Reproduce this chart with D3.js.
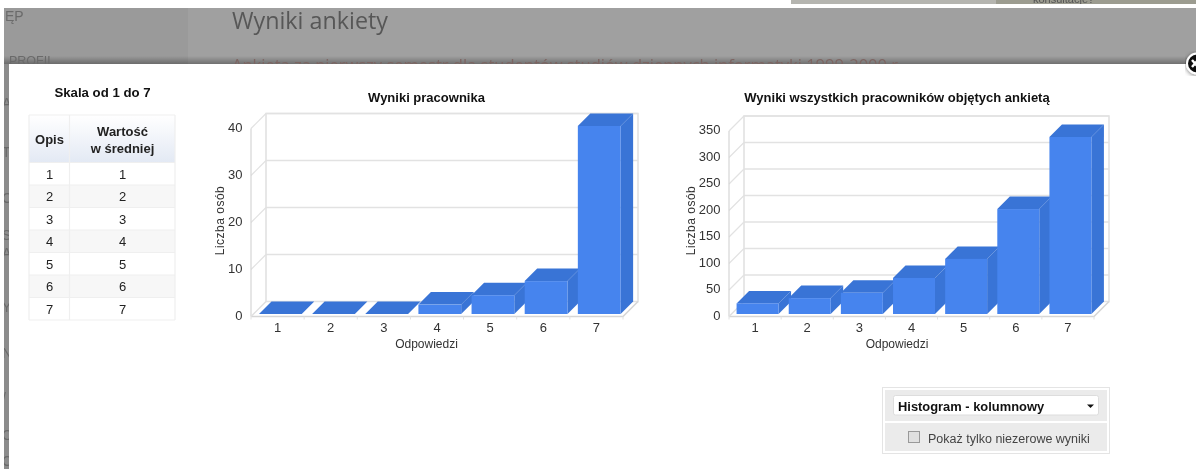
<!DOCTYPE html>
<html>
<head>
<meta charset="utf-8">
<script src="https://cdn.jsdelivr.net/npm/d3@7"></script>
<style>
  html, body { margin: 0; padding: 0; background: #fff; overflow: hidden; }
  svg { display: block; font-family: "Liberation Sans", Arial, sans-serif; }
  #crisp { filter: blur(0.35px); }
</style>
</head>
<body>
<div id="crisp"></div>
<script>
var answers = ['1', '2', '3', '4', '5', '6', '7']
var employeeValues = [0, 0, 0, 2, 4, 7, 40]
var allValues = [20, 30, 40, 68, 104, 198, 334]
var employeeTicks = [0, 10, 20, 30, 40]
var allTicks = [0, 50, 100, 150, 200, 250, 300, 350]
var tableDescriptions = ['1', '2', '3', '4', '5', '6', '7']
var tableValues = ['1', '2', '3', '4', '5', '6', '7']
var sideMenu = ['ĘP', 'PROFIL', 'A', 'T', 'C', 'S', 'A', 'Y', 'N', '/', 'O', 'C']

var width = 1196
var height = 469

var svg = d3.select('#crisp').append('svg')
  .attr('width', width)
  .attr('height', height)

var defs = svg.append('defs')

var headGrad = defs.append('linearGradient')
  .attr('id', 'headGrad')
  .attr('x1', 0).attr('y1', 0).attr('x2', 0).attr('y2', 1)
headGrad.append('stop').attr('offset', '0%').attr('stop-color', '#ffffff')
headGrad.append('stop').attr('offset', '100%').attr('stop-color', '#e3e9f4')

var shadeGrad = defs.append('linearGradient')
  .attr('id', 'shadeGrad')
  .attr('x1', 0).attr('y1', 0).attr('x2', 0).attr('y2', 1)
shadeGrad.append('stop').attr('offset', '0%').attr('stop-color', '#000').attr('stop-opacity', 0)
shadeGrad.append('stop').attr('offset', '100%').attr('stop-color', '#000').attr('stop-opacity', 0.3)

var closeShadow = defs.append('filter').attr('id', 'closeShadow')
closeShadow.append('feDropShadow')
  .attr('dx', 0).attr('dy', 1).attr('stdDeviation', 2).attr('flood-opacity', 0.5)

defs.append('clipPath').attr('id', 'pageClip')
  .append('rect').attr('x', 4).attr('y', 8).attr('width', width - 4).attr('height', height - 8)

drawBackdrop()
drawTable()

drawChart({
  left: 251, right: 623, base: 314, floor: 316.5,
  top: 126, depth: 15, barDepth: 12.5, shift: 2.8,
  ticks: employeeTicks, values: employeeValues,
  title: 'Wyniki pracownika', titleX: 426.5, yLabelX: 223.5
})

drawChart({
  left: 729, right: 1094, base: 314, floor: 316.5,
  top: 128.5, depth: 15, barDepth: 12.5, shift: 2.5,
  ticks: allTicks, values: allValues,
  title: 'Wyniki wszystkich pracowników objętych ankietą', titleX: 897, yLabelX: 695
})

drawControls()

function drawBackdrop () {
  svg.append('rect').attr('width', width).attr('height', height).attr('fill', '#fff')

  // piece of the page above the overlay
  svg.append('rect').attr('x', 791).attr('y', 0).attr('width', 405).attr('height', 4).attr('fill', '#b5b5b0')
  svg.append('rect').attr('x', 996).attr('y', 0).attr('width', 200).attr('height', 4).attr('fill', '#9c9c90')
  svg.append('text').attr('x', 1033).attr('y', 3).attr('font-size', 11).attr('fill', '#555').text('konsultacje?')
  svg.append('rect').attr('x', 0).attr('y', 4).attr('width', width).attr('height', 4).attr('fill', '#fff')

  var page = svg.append('g').attr('clip-path', 'url(#pageClip)')
  page.append('rect').attr('x', 4).attr('y', 8).attr('width', width - 4).attr('height', height - 8).attr('fill', '#a0a0a0')
  page.append('rect').attr('x', 4).attr('y', 8).attr('width', 184).attr('height', 56).attr('fill', '#9a9a9a')
  page.append('rect').attr('x', 4).attr('y', 56).attr('width', width - 4).attr('height', 8).attr('fill', 'url(#shadeGrad)')
  page.append('rect').attr('x', 4).attr('y', 64).attr('width', 5).attr('height', height - 64).attr('fill', '#8c8c8c')

  var menuX = [5, 9, 2, 2, 2, 2, 2, 2, 2, 2, 2, 2]
  var menuY = [20.5, 64.5, 108, 157, 203, 240, 258, 312, 358, 403, 440, 466]
  page.selectAll('text.menu').data(sideMenu).enter().append('text')
    .attr('class', 'menu')
    .attr('x', function (d, i) { return menuX[i] })
    .attr('y', function (d, i) { return menuY[i] })
    .attr('font-size', function (d, i) { return i === 1 ? 12.5 : 14 })
    .attr('fill', '#6a6a6a')
    .text(function (d) { return d })

  page.append('text')
    .attr('x', 232).attr('y', 29)
    .attr('font-family', '"Open Sans", sans-serif')
    .attr('font-size', 23.3)
    .attr('fill', '#575757')
    .text('Wyniki ankiety')

  page.append('text')
    .attr('x', 232).attr('y', 71)
    .attr('font-family', '"Open Sans", sans-serif')
    .attr('font-size', 16.5)
    .attr('fill', '#7d6562')
    .text('Ankieta za pierwszy semestr dla studentów studiów dziennych informatyki 1999-2000 r.')

  // modal sheet
  svg.append('rect').attr('x', 9).attr('y', 64).attr('width', width - 9).attr('height', height - 64).attr('fill', '#fff')

  // close button
  var close = svg.append('g')
  close.append('circle').attr('cx', 1197).attr('cy', 63.5).attr('r', 10).attr('fill', '#111').attr('stroke', '#fff').attr('stroke-width', 2).attr('filter', 'url(#closeShadow)')
  close.append('path').attr('d', 'M1192 60L1198 67M1198 60L1192 67').attr('stroke', '#fff').attr('stroke-width', 2.4)
}

function drawTable () {
  var x0 = 29
  var x1 = 69.5
  var x2 = 175
  var headTop = 115
  var headBottom = 162.5
  var rows = d3.scaleBand().domain(d3.range(tableValues.length)).range([headBottom, 320])
  var g = svg.append('g')

  svg.append('text')
    .attr('x', 102.5).attr('y', 96.5)
    .attr('text-anchor', 'middle')
    .attr('font-size', 13.2).attr('font-weight', 'bold').attr('fill', '#111')
    .text('Skala od 1 do 7')

  g.append('rect').attr('x', x0).attr('y', headTop).attr('width', x1 - x0).attr('height', headBottom - headTop).attr('fill', 'url(#headGrad)')
  g.append('rect').attr('x', x1).attr('y', headTop).attr('width', x2 - x1).attr('height', headBottom - headTop).attr('fill', 'url(#headGrad)')

  g.selectAll('rect.row').data(tableValues).enter().append('rect')
    .attr('class', 'row')
    .attr('x', x0)
    .attr('y', function (d, i) { return rows(i) })
    .attr('width', x2 - x0)
    .attr('height', rows.bandwidth())
    .attr('fill', function (d, i) { return i % 2 ? '#f7f7f7' : '#fff' })

  var lines = [headTop, headBottom].concat(tableValues.map(function (d, i) { return rows(i) + rows.bandwidth() }))
  g.selectAll('line.h').data(lines).enter().append('line')
    .attr('class', 'h')
    .attr('x1', x0).attr('x2', x2)
    .attr('y1', function (d) { return d }).attr('y2', function (d) { return d })
    .attr('stroke', '#efefef').attr('stroke-width', 1.2)

  g.selectAll('line.v').data([x0, x1, x2]).enter().append('line')
    .attr('class', 'v')
    .attr('x1', function (d) { return d }).attr('x2', function (d) { return d })
    .attr('y1', headTop).attr('y2', 320)
    .attr('stroke', '#efefef').attr('stroke-width', 1.2)

  g.append('text').attr('x', 49.5).attr('y', 143.5).attr('text-anchor', 'middle')
    .attr('font-size', 13).attr('font-weight', 'bold').attr('fill', '#222').text('Opis')
  g.append('text').attr('x', 122.5).attr('y', 136).attr('text-anchor', 'middle')
    .attr('font-size', 13).attr('font-weight', 'bold').attr('fill', '#222').text('Wartość')
  g.append('text').attr('x', 122.5).attr('y', 152.5).attr('text-anchor', 'middle')
    .attr('font-size', 13).attr('font-weight', 'bold').attr('fill', '#222').text('w średniej')

  g.selectAll('text.desc').data(tableDescriptions).enter().append('text')
    .attr('class', 'desc')
    .attr('x', 49.5)
    .attr('y', function (d, i) { return rows(i) + 16 })
    .attr('text-anchor', 'middle').attr('font-size', 13).attr('fill', '#222')
    .text(function (d) { return d })

  g.selectAll('text.val').data(tableValues).enter().append('text')
    .attr('class', 'val')
    .attr('x', 122.5)
    .attr('y', function (d, i) { return rows(i) + 16 })
    .attr('text-anchor', 'middle').attr('font-size', 13).attr('fill', '#222')
    .text(function (d) { return d })
}

function drawChart (c) {
  var gridColor = '#e2e2e2'
  var wallColor = '#d6d6d6'
  var frontColor = '#4684ee'
  var darkColor = '#3974d6'

  var maxTick = d3.max(c.ticks)
  var y = d3.scaleLinear().domain([0, maxTick]).range([c.base, c.top])
  var x = d3.scaleBand().domain(answers).range([c.left, c.right])
  var barWidth = x.bandwidth() * 0.805
  var barX = function (i) { return x(answers[i]) + (x.bandwidth() - barWidth) / 2 + c.shift }

  var g = svg.append('g')
  var backLeft = c.left + c.depth
  var backRight = c.right + c.depth
  var backFloor = c.floor - c.depth
  // gridlines rest on the floor, so the wall is offset from the bar scale
  var wallY = function (v) { return y(v) + (c.floor - c.base) - c.depth }
  var backTop = wallY(maxTick)

  g.selectAll('line.grid').data(c.ticks.slice(1)).enter().append('line')
    .attr('class', 'grid')
    .attr('x1', backLeft).attr('x2', backRight)
    .attr('y1', wallY).attr('y2', wallY)
    .attr('stroke', gridColor).attr('stroke-width', 1.6)

  g.selectAll('line.side').data(c.ticks).enter().append('line')
    .attr('class', 'side')
    .attr('x1', c.left).attr('x2', backLeft)
    .attr('y1', function (d) { return wallY(d) + c.depth }).attr('y2', wallY)
    .attr('stroke', gridColor).attr('stroke-width', 1.2)

  // wall frame
  g.append('path')
    .attr('d', 'M' + c.left + ' ' + c.floor + 'V' + (wallY(maxTick) + c.depth))
    .attr('fill', 'none').attr('stroke', wallColor).attr('stroke-width', 1.2)
  g.append('path')
    .attr('d', 'M' + backLeft + ' ' + backFloor + 'V' + backTop + 'H' + backRight + 'V' + backFloor + 'H' + backLeft)
    .attr('fill', 'none').attr('stroke', gridColor).attr('stroke-width', 1.6)
  g.append('path')
    .attr('d', 'M' + c.left + ' ' + c.floor + 'H' + c.right + 'L' + backRight + ' ' + backFloor)
    .attr('fill', 'none').attr('stroke', wallColor).attr('stroke-width', 1.6)
  g.append('line')
    .attr('x1', c.left).attr('y1', c.floor).attr('x2', backLeft).attr('y2', backFloor)
    .attr('stroke', gridColor).attr('stroke-width', 1.2)

  // ticks below the floor line
  g.selectAll('line.xtick').data(answers.concat(['end'])).enter().append('line')
    .attr('class', 'xtick')
    .attr('x1', function (d, i) { return c.left + i * x.step() })
    .attr('x2', function (d, i) { return c.left + i * x.step() })
    .attr('y1', c.floor).attr('y2', c.floor + 3)
    .attr('stroke', gridColor)

  // bars, left to right so each side face is covered by the next bar
  var bars = g.selectAll('g.bar').data(c.values).enter().append('g').attr('class', 'bar')

  bars.append('path')
    .attr('fill', darkColor)
    .attr('d', function (d, i) {
      var l = barX(i)
      var r = l + barWidth
      var t = y(d)
      return 'M' + l + ' ' + t + 'L' + (l + c.barDepth) + ' ' + (t - c.barDepth) + 'H' + (r + c.barDepth) + 'L' + r + ' ' + t + 'Z'
    })

  bars.append('path')
    .attr('fill', darkColor)
    .attr('d', function (d, i) {
      var r = barX(i) + barWidth
      var t = y(d)
      return 'M' + r + ' ' + t + 'L' + (r + c.barDepth) + ' ' + (t - c.barDepth) + 'V' + (c.base - c.barDepth) + 'L' + r + ' ' + c.base + 'Z'
    })

  bars.append('rect')
    .attr('fill', frontColor)
    .attr('x', function (d, i) { return barX(i) })
    .attr('y', function (d) { return y(d) })
    .attr('width', barWidth)
    .attr('height', function (d) { return c.base - y(d) })

  // labels
  g.selectAll('text.ytick').data(c.ticks).enter().append('text')
    .attr('class', 'ytick')
    .attr('x', c.left - 8.5)
    .attr('y', function (d) { return wallY(d) + c.depth + 3 })
    .attr('text-anchor', 'end')
    .attr('font-size', 13).attr('fill', '#333')
    .text(function (d) { return d })

  g.selectAll('text.xlabel').data(answers).enter().append('text')
    .attr('class', 'xlabel')
    .attr('x', function (d) { return x(d) + x.bandwidth() / 2 })
    .attr('y', 331.5)
    .attr('text-anchor', 'middle')
    .attr('font-size', 13).attr('fill', '#333')
    .text(function (d) { return d })

  g.append('text')
    .attr('x', c.titleX).attr('y', 348)
    .attr('text-anchor', 'middle')
    .attr('font-size', 12).attr('fill', '#333')
    .text('Odpowiedzi')

  g.append('text')
    .attr('transform', 'translate(' + c.yLabelX + ',220.5) rotate(-90)')
    .attr('text-anchor', 'middle')
    .attr('font-size', 12).attr('letter-spacing', 0.5).attr('fill', '#333')
    .text('Liczba osób')

  g.append('text')
    .attr('x', c.titleX).attr('y', 101.5)
    .attr('text-anchor', 'middle')
    .attr('font-size', 13).attr('font-weight', 'bold').attr('fill', '#111')
    .text(c.title)
}

function drawControls () {
  var g = svg.append('g')
  g.append('rect').attr('x', 882.5).attr('y', 387.5).attr('width', 227).attr('height', 66).attr('fill', '#fff').attr('stroke', '#e4e4e4')
  g.append('rect').attr('x', 885).attr('y', 390).attr('width', 222).attr('height', 31).attr('fill', '#ebebeb')
  g.append('rect').attr('x', 885).attr('y', 423).attr('width', 222).attr('height', 28).attr('fill', '#ebebeb')
  g.append('rect').attr('x', 893.5).attr('y', 395.5).attr('width', 205).attr('height', 19.5).attr('rx', 2).attr('fill', '#fff').attr('stroke', '#ddd')
  g.append('text').attr('x', 898).attr('y', 411).attr('font-size', 12.9).attr('font-weight', 'bold').attr('fill', '#111').text('Histogram - kolumnowy')
  g.append('path').attr('d', 'M1087 404.5H1094L1090.5 408Z').attr('fill', '#111')
  g.append('rect').attr('x', 908.5).attr('y', 431.5).attr('width', 11).attr('height', 11).attr('fill', '#e0e0e0').attr('stroke', '#999')
  g.append('text').attr('x', 928).attr('y', 443).attr('font-size', 12.5).attr('fill', '#444').text('Pokaż tylko niezerowe wyniki')
}
</script>
</body>
</html>
